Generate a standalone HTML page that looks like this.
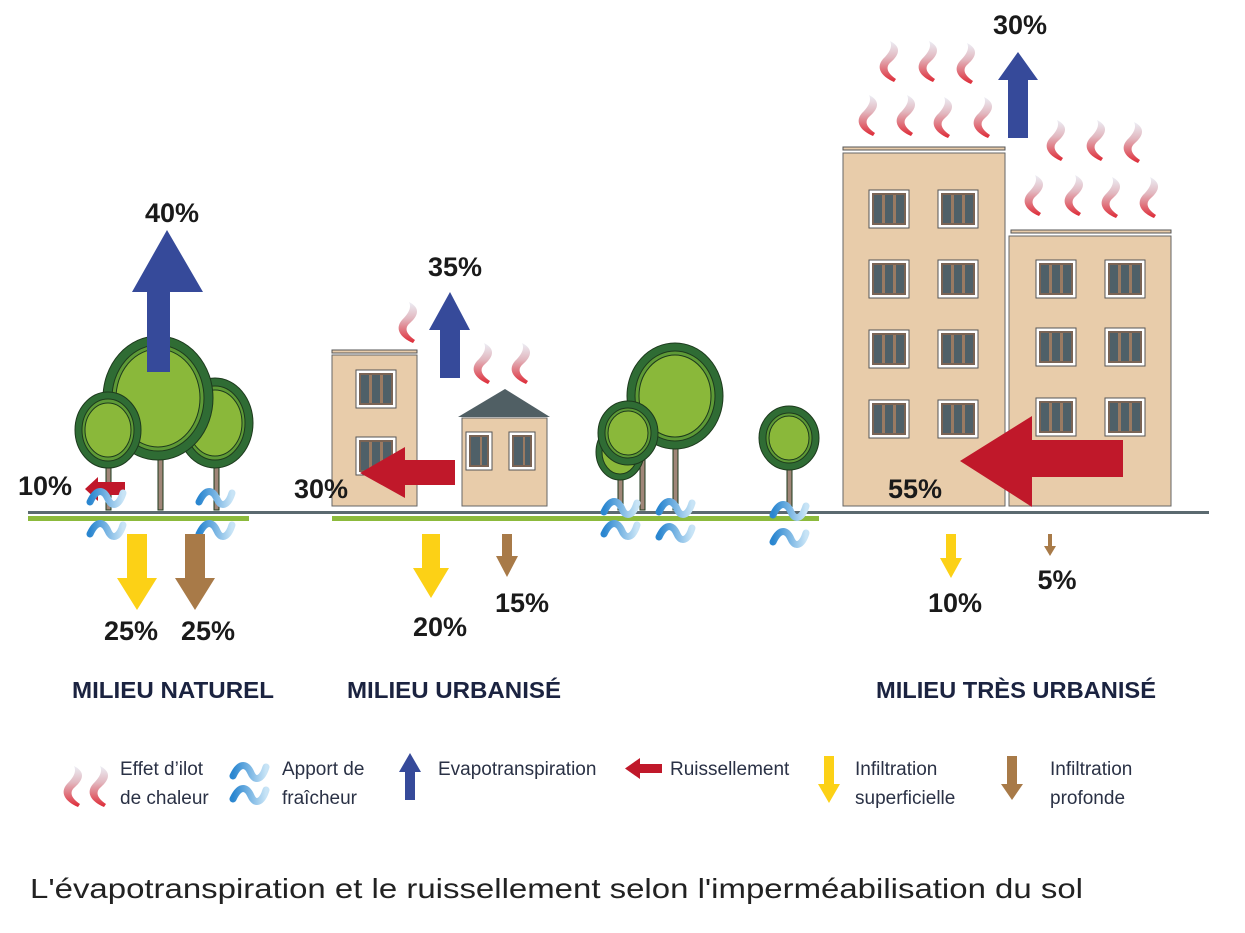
<!DOCTYPE html>
<html><head><meta charset="utf-8"><style>
html,body{margin:0;padding:0;background:#fff;}
svg{display:block;}
.p{font-family:"Liberation Sans",sans-serif;font-weight:bold;font-size:27px;fill:#1a1a1a;}
.h{font-family:"Liberation Sans",sans-serif;font-weight:bold;font-size:23px;fill:#1b2340;}
.l{font-family:"Liberation Sans",sans-serif;font-size:19px;fill:#2a3145;}
</style></head><body>
<svg width="1245" height="933" viewBox="0 0 1245 933" xmlns="http://www.w3.org/2000/svg">
<defs>
<linearGradient id="hg" x1="0" y1="0" x2="0" y2="1"><stop offset="0" stop-color="#eceef5"/><stop offset="0.4" stop-color="#e2b8c0"/><stop offset="1" stop-color="#de2a36"/></linearGradient>
<linearGradient id="wg" x1="0" y1="0" x2="1" y2="0"><stop offset="0" stop-color="#2a86d0"/><stop offset="1" stop-color="#c8e4f6"/></linearGradient>
<symbol id="heat" overflow="visible"><path d="M12,0 C24,6 21,14 13,21 C7,26 9,32 18,38 L16,41 C2,35 -2,26 5,18 C11,12 15,6 12,0 Z" fill="url(#hg)"/></symbol>
<symbol id="wave" overflow="visible"><path d="M-16,5 C-9,-10 -2,-7 2,2 C6,11 13,9 17,-4" fill="none" stroke="url(#wg)" stroke-width="7" stroke-linecap="round"/></symbol>
<symbol id="win" overflow="visible"><rect x="0" y="0" width="40" height="38" fill="#fff" stroke="#555" stroke-width="1"/><rect x="3" y="3" width="34" height="32" fill="#7a6455"/><rect x="5" y="5" width="30" height="28" fill="#4f6068"/><rect x="13" y="5" width="3" height="28" fill="#9a7a62"/><rect x="24" y="5" width="3" height="28" fill="#9a7a62"/></symbol>
<symbol id="win2" overflow="visible"><rect x="0" y="0" width="26" height="38" fill="#fff" stroke="#555" stroke-width="1"/><rect x="3" y="3" width="20" height="32" fill="#7a6455"/><rect x="5" y="5" width="16" height="28" fill="#4f6068"/><rect x="14" y="5" width="2" height="28" fill="#9a7a62"/></symbol>
</defs>

<rect x="28" y="511" width="1181" height="3" fill="#5b6a70"/>
<rect x="28" y="516" width="221" height="5" fill="#8cba3c"/>
<rect x="332" y="516" width="487" height="5" fill="#8cba3c"/>

<g stroke="#1d3a1d" stroke-width="1">
<rect x="158" y="440" width="5" height="70" fill="#a08678"/>
<rect x="106" y="450" width="5" height="60" fill="#a08678"/>
<rect x="214" y="450" width="5" height="60" fill="#a08678"/>
<ellipse cx="215" cy="423" rx="38" ry="45" fill="#2f6c34"/><ellipse cx="215" cy="423" rx="30" ry="37" fill="#5e9a36"/><ellipse cx="215" cy="423" rx="27" ry="33" fill="#8ab83a"/>
<ellipse cx="158" cy="398" rx="55" ry="62" fill="#2f6c34"/><ellipse cx="158" cy="398" rx="46" ry="53" fill="#5e9a36"/><ellipse cx="158" cy="398" rx="42" ry="49" fill="#8ab83a"/>
<ellipse cx="108" cy="430" rx="33" ry="38" fill="#2f6c34"/><ellipse cx="108" cy="430" rx="26" ry="31" fill="#5e9a36"/><ellipse cx="108" cy="430" rx="23" ry="27" fill="#8ab83a"/>
</g>
<path d="M147,372 V292 H132 L167,230 L203,292 H170 V372Z" fill="#364a9a"/>
<text class="p" x="172" y="222" text-anchor="middle">40%</text>
<path d="M125,482 V495 H98 V501 L85,489 L98,477 V482Z" fill="#c0182a"/>
<text class="p" x="18" y="495">10%</text>

<rect x="332" y="350" width="85" height="3" fill="#e8ccaa" stroke="#555" stroke-width="1"/>
<rect x="332" y="355" width="85" height="151" fill="#e8ccaa" stroke="#666" stroke-width="1"/>
<use href="#win" x="356" y="370"/><use href="#win" x="356" y="437"/>
<path d="M458,417 L505,389 L550,417Z" fill="#505f64"/>
<rect x="462" y="418" width="85" height="88" fill="#e8ccaa" stroke="#666" stroke-width="1"/>
<use href="#win2" x="466" y="432"/><use href="#win2" x="509" y="432"/>
<use href="#heat" x="397" y="302"/><use href="#heat" x="472" y="343"/><use href="#heat" x="510" y="343"/>
<path d="M440,378 V330 H429 L450,292 L470,330 H460 V378Z" fill="#364a9a"/>
<text class="p" x="455" y="276" text-anchor="middle">35%</text>
<path d="M455,460 V485 H405 V498 L360,473 L405,447 V460Z" fill="#c0182a"/>
<text class="p" x="294" y="498">30%</text>

<g stroke="#1d3a1d" stroke-width="1">
<rect x="618" y="470" width="5" height="40" fill="#a08678"/>
<rect x="640" y="450" width="5" height="60" fill="#a08678"/>
<rect x="673" y="440" width="5" height="70" fill="#a08678"/>
<rect x="787" y="460" width="5" height="50" fill="#a08678"/>
<ellipse cx="675" cy="396" rx="48" ry="53" fill="#2f6c34"/><ellipse cx="675" cy="396" rx="40" ry="45" fill="#5e9a36"/><ellipse cx="675" cy="396" rx="36" ry="41" fill="#8ab83a"/>
<ellipse cx="620" cy="452" rx="24" ry="28" fill="#2f6c34"/><ellipse cx="620" cy="452" rx="18" ry="22" fill="#8ab83a"/>
<ellipse cx="628" cy="433" rx="30" ry="32" fill="#2f6c34"/><ellipse cx="628" cy="433" rx="23" ry="25" fill="#5e9a36"/><ellipse cx="628" cy="433" rx="20" ry="22" fill="#8ab83a"/>
<ellipse cx="789" cy="438" rx="30" ry="32" fill="#2f6c34"/><ellipse cx="789" cy="438" rx="23" ry="25" fill="#5e9a36"/><ellipse cx="789" cy="438" rx="20" ry="22" fill="#8ab83a"/>
</g>

<rect x="843" y="147" width="162" height="3" fill="#e8ccaa" stroke="#555" stroke-width="1"/>
<rect x="843" y="153" width="162" height="353" fill="#e8ccaa" stroke="#666" stroke-width="1"/>
<rect x="1011" y="230" width="160" height="3" fill="#e8ccaa" stroke="#555" stroke-width="1"/>
<rect x="1009" y="236" width="162" height="270" fill="#e8ccaa" stroke="#666" stroke-width="1"/>
<use href="#win" x="869" y="190"/><use href="#win" x="938" y="190"/>
<use href="#win" x="869" y="260"/><use href="#win" x="938" y="260"/>
<use href="#win" x="869" y="330"/><use href="#win" x="938" y="330"/>
<use href="#win" x="869" y="400"/><use href="#win" x="938" y="400"/>
<use href="#win" x="1036" y="260"/><use href="#win" x="1105" y="260"/>
<use href="#win" x="1036" y="328"/><use href="#win" x="1105" y="328"/>
<use href="#win" x="1036" y="398"/><use href="#win" x="1105" y="398"/>
<use href="#heat" x="878" y="41"/><use href="#heat" x="917" y="41"/><use href="#heat" x="955" y="43"/>
<use href="#heat" x="857" y="95"/><use href="#heat" x="895" y="95"/><use href="#heat" x="932" y="97"/><use href="#heat" x="972" y="97"/>
<use href="#heat" x="1045" y="120"/><use href="#heat" x="1085" y="120"/><use href="#heat" x="1122" y="122"/>
<use href="#heat" x="1023" y="175"/><use href="#heat" x="1063" y="175"/><use href="#heat" x="1100" y="177"/><use href="#heat" x="1138" y="177"/>
<path d="M1008,138 V80 H998 L1018,52 L1038,80 H1028 V138Z" fill="#364a9a"/>
<text class="p" x="1020" y="34" text-anchor="middle">30%</text>
<path d="M1123,440 V477 H1032 V507 L960,461 L1032,416 V440Z" fill="#c0182a"/>
<text class="p" x="888" y="498">55%</text>

<use href="#wave" x="106" y="497"/><use href="#wave" x="106" y="529"/>
<use href="#wave" x="215" y="497"/><use href="#wave" x="215" y="529"/>
<use href="#wave" x="620" y="507"/><use href="#wave" x="620" y="529"/>
<use href="#wave" x="675" y="507"/><use href="#wave" x="675" y="532"/>
<use href="#wave" x="789" y="510"/><use href="#wave" x="789" y="537"/>

<path d="M127,534 V578 H117 L137,610 L157,578 H147 V534Z" fill="#fcd116"/>
<path d="M185,534 V578 H175 L195,610 L215,578 H205 V534Z" fill="#a87a48"/>
<text class="p" x="131" y="640" text-anchor="middle">25%</text>
<text class="p" x="208" y="640" text-anchor="middle">25%</text>
<path d="M422,534 V568 H413 L431,598 L449,568 H440 V534Z" fill="#fcd116"/>
<path d="M502,534 V556 H496 L507,577 L518,556 H512 V534Z" fill="#a87a48"/>
<text class="p" x="440" y="636" text-anchor="middle">20%</text>
<text class="p" x="522" y="612" text-anchor="middle">15%</text>
<path d="M946,534 V558 H940 L951,578 L962,558 H956 V534Z" fill="#fcd116"/>
<path d="M1048,534 V546 H1044 L1050,556 L1056,546 H1052 V534Z" fill="#a87a48"/>
<text class="p" x="955" y="612" text-anchor="middle">10%</text>
<text class="p" x="1057" y="589" text-anchor="middle">5%</text>

<text class="h" x="72" y="698" textLength="202" lengthAdjust="spacingAndGlyphs">MILIEU NATUREL</text>
<text class="h" x="347" y="698" textLength="214" lengthAdjust="spacingAndGlyphs">MILIEU URBANISÉ</text>
<text class="h" x="876" y="698" textLength="280" lengthAdjust="spacingAndGlyphs">MILIEU TRÈS URBANISÉ</text>

<use href="#heat" x="62" y="766"/><use href="#heat" x="88" y="766"/>
<text class="l" x="120" y="775">Effet d’ilot</text><text class="l" x="120" y="804">de chaleur</text>
<use href="#wave" x="249" y="771"/><use href="#wave" x="249" y="794"/>
<text class="l" x="282" y="775">Apport de</text><text class="l" x="282" y="804">fraîcheur</text>
<path d="M405,800 V772 H399 L410,753 L421,772 H415 V800Z" fill="#364a9a"/>
<text class="l" x="438" y="775">Evapotranspiration</text>
<path d="M662,764 V773 H640 V779 L625,768.5 L640,758 V764Z" fill="#c0182a"/>
<text class="l" x="670" y="775">Ruissellement</text>
<path d="M824,756 V784 H818 L829,803 L840,784 H834 V756Z" fill="#fcd116"/>
<text class="l" x="855" y="775">Infiltration</text><text class="l" x="855" y="804">superficielle</text>
<path d="M1007,756 V784 H1001 L1012,800 L1023,784 H1017 V756Z" fill="#a87a48"/>
<text class="l" x="1050" y="775">Infiltration</text><text class="l" x="1050" y="804">profonde</text>

<text x="30" y="898" font-family="Liberation Sans, sans-serif" font-size="28" fill="#222" textLength="1053" lengthAdjust="spacingAndGlyphs">L'évapotranspiration et le ruissellement selon l'imperméabilisation du sol</text>
</svg>
</body></html>
